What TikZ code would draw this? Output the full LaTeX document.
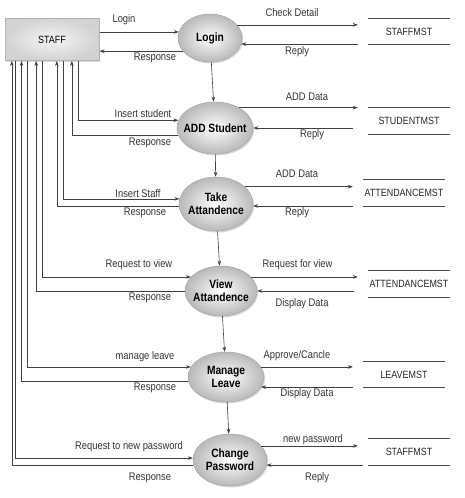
\documentclass[tikz,border=0pt]{standalone}
\usepackage{fontspec}
\setmainfont{Liberation Sans}[FakeStretch=0.85]
\usetikzlibrary{shapes.geometric,arrows.meta,shadows}
\begin{document}
\begin{tikzpicture}[x=1pt,y=-1pt,
  flow/.style={draw=black!75, line width=0.6pt, -{Stealth[length=5pt,width=3.6pt]}},
  link/.style={draw=black!75, line width=0.6pt},
  proc/.style={ellipse, draw=gray!70, line width=0.5pt, inner color=white, outer color=gray!55,
    drop shadow={opacity=0.3, shadow xshift=1.2pt, shadow yshift=-1.5pt}},
  ptext/.style={font=\bfseries\fontsize{12}{13}\selectfont, align=center, inner sep=0pt},
  lbl/.style={font=\fontsize{11}{12}\selectfont, text=black!80, inner sep=0pt},
  store/.style={font=\fontsize{10.5}{12}\selectfont, text=black!85, minimum width=82pt, inner sep=0pt},
  storeline/.style={draw=black!70, line width=0.8pt}
]
\useasboundingbox (0,0) rectangle (465,498);

% external entity
\node[draw=gray!60, line width=1pt, inner color=gray!8, outer color=gray!35,
      minimum width=94pt, minimum height=42pt,
      drop shadow={opacity=0.3, shadow xshift=1.2pt, shadow yshift=-1.5pt},
      font=\fontsize{10.5}{12}\selectfont] (staff) at (52,39.5) {STAFF};

% processes
\node[proc, minimum width=64pt, minimum height=48pt] (login) at (210,38) {};
\node[ptext] (logint) at (login) {Login};
\node[proc, minimum width=76pt, minimum height=52pt] (add) at (215,128) {};
\node[ptext] (addt) at (add) {ADD Student};
\node[proc, minimum width=74pt, minimum height=54pt] (take) at (216,204) {};
\node[ptext] (taket) at (take) {Take\\Attandence};
\node[proc, minimum width=72pt, minimum height=50pt] (view) at (221,291) {};
\node[ptext] (viewt) at (view) {View\\Attandence};
\node[proc, minimum width=76pt, minimum height=50pt] (manage) at (226,377) {};
\node[ptext] (managet) at (manage) {Manage\\Leave};
\node[proc, minimum width=74pt, minimum height=52pt] (change) at (230,460) {};
\node[ptext] (changet) at (change) {Change\\Password};

% data stores
\node[store, minimum height=25pt] (s1) at (409,31.5) {STAFFMST};
\node[store, minimum height=26pt] (s2) at (409,121) {STUDENTMST};
\node[store, minimum height=26pt] (s3) at (404,193) {ATTENDANCEMST};
\node[store, minimum height=26pt] (s4) at (409,284) {ATTENDANCEMST};
\node[store, minimum height=25pt] (s5) at (404,374.5) {LEAVEMST};
\node[store, minimum height=26pt] (s6) at (409,452) {STAFFMST};
\foreach \s in {s1,s2,s3,s4,s5,s6}{
  \draw[storeline] (\s.north west) -- (\s.north east) (\s.south west) -- (\s.south east);
  \coordinate (\s in) at ([xshift=-10pt]\s.west);
}

% flow lines leaving the bottom of STAFF
\coordinate (addq)    at ([xshift=73.3pt]staff.south west);
\coordinate (addr)    at ([xshift=67.3pt]staff.south west);
\coordinate (takeq)   at ([xshift=58.3pt]staff.south west);
\coordinate (taker)   at ([xshift=52.3pt]staff.south west);
\coordinate (viewq)   at ([xshift=37.7pt]staff.south west);
\coordinate (viewr)   at ([xshift=31.7pt]staff.south west);
\coordinate (manageq) at ([xshift=22.3pt]staff.south west);
\coordinate (manager) at ([xshift=17pt]staff.south west);
\coordinate (changeq) at ([xshift=10.7pt]staff.south west);
\coordinate (changer) at ([xshift=7.3pt]staff.south west);

% process chain
\draw[flow] (login) -- (add);
\draw[flow] (add) -- (take);
\draw[flow] (take) -- (view);
\draw[flow] (view) -- (manage);
\draw[flow] (manage) -- (change);

% Login
\draw[flow] (staff.east |- login.169) -- (login.169);
\draw[flow] (login.206) -- (staff.east |- login.206);
\draw[flow] (login.26) -- (s1in |- login.26);
\draw[flow] (s1in |- login.349) -- (login.349);
\node[lbl] (l1) at (124,20) {Login};
\node[lbl] (l2) at (155,58) {Response};
\node[lbl] (l3) at (292,13) {Check Detail};
\node[lbl] (l4) at (297,52) {Reply};

% ADD Student
\draw[flow] (addq) |- (add.168);
\draw[flow] (add.191) -| (addr);
\draw[flow] (add.40) -- (s2in |- add.40);
\draw[flow] ([xshift=-5pt]s2in |- add.0) -- (add.0);
\node[lbl] (l5) at (143,114) {Insert student};
\node[lbl] (l6) at (150,143) {Response};
\node[lbl] (l7) at (307,97) {ADD Data};
\node[lbl] (l8) at (312,135) {Reply};

% Take Attandence
\draw[flow] (takeq) |- (take.172);
\draw[flow] (take.183) -| (taker);
\draw[flow] (take.31) -- (s3in |- take.31);
\draw[flow] (s3in |- take.357) -- (take.357);
\node[lbl] (l9) at (138,194) {Insert Staff};
\node[lbl] (l10) at (145,213) {Response};
\node[lbl] (l11) at (297,174) {ADD Data};
\node[lbl] (l12) at (297,213) {Reply};

% View Attandence
\draw[flow] (viewq) |- (view.155);
\draw[flow] (view.180) -| (viewr);
\draw[flow] (view.25) -- (s4in |- view.25);
\draw[flow] ([xshift=-4pt]s4in |- view.0) -- (view.0);
\node[lbl] (l13) at (139,265) {Request to view};
\node[lbl] (l14) at (150,298) {Response};
\node[lbl] (l15) at (297.5,265) {Request for view};
\node[lbl] (l16) at (302,304) {Display Data};

% Manage Leave
\draw[flow] (manageq) |- (manage.164);
\draw[flow] (manage.186) -| (manager);
\draw[flow] (manage.16) -- (s5in |- manage.16);
\draw[flow] (s5in |- manage.344) -- (manage.344);
\node[lbl] (l17) at (145,357) {manage leave};
\node[lbl] (l18) at (155,388) {Response};
\node[lbl] (l19) at (297,356) {Approve/Cancle};
\node[lbl] (l20) at (307,394) {Display Data};

% Change Password
\draw[flow] (changeq) |- (change.177);
\draw[flow] (change.188) -| (changer);
\draw[flow] (change.24) -- (s6in |- change.24);
\draw[flow] ([xshift=5pt]s6in |- change.352) -- (change.352);
\node[lbl] (l21) at (129,447) {Request to new password};
\node[lbl] (l22) at (150,478) {Response};
\node[lbl] (l23) at (313,440) {new password};
\node[lbl] (l24) at (317,478) {Reply};
\end{tikzpicture}
\end{document}
